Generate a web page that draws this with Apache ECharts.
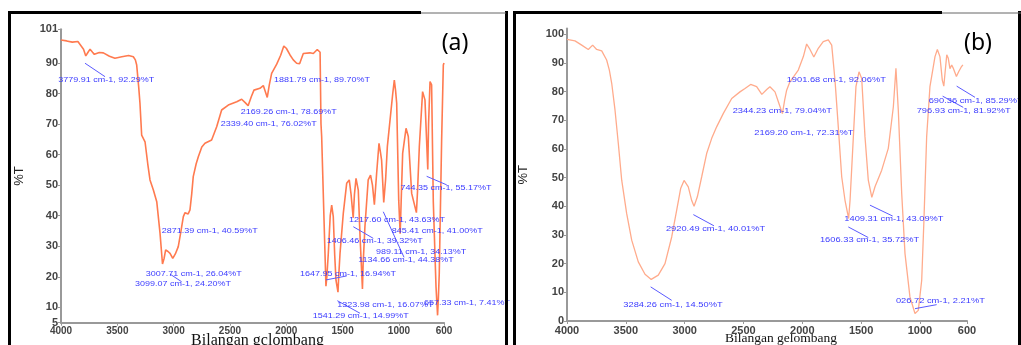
<!DOCTYPE html>
<html><head><meta charset="utf-8">
<script src="https://cdn.jsdelivr.net/npm/echarts@6/dist/echarts.min.js"></script>
<style>html,body{margin:0;padding:0;background:#fff}#c{width:1021px;height:345px}</style>
</head><body><div id="c"></div>
<script>
// ---- tick labels ----
const xTicks = [4000, 3500, 3000, 2500, 2000, 1500, 1000, 600];
const yTicksA = [5, 10, 20, 30, 40, 50, 60, 70, 80, 90, 101];
const yTicksB = [0, 10, 20, 30, 40, 50, 60, 70, 80, 90, 100, 102];

// ---- spectrum (a): wavenumber (cm-1) and %T ----
const wnA = [4000,3950,3900,3850,3800,3780,3760,3742,3720,3704,3660,3624,3570,3521,3460,3400,3358,3340,3328,3310,3299,3284,3254,3230,3210,3180,3150,3121,3099,3085,3071,3050,3032,3008,2985,2959,2935,2914,2899,2871,2855,2840,2826,2800,2781,2750,2722,2663,2640,2618,2574,2515,2440,2396,2365,2339,2310,2287,2234,2204,2185,2169,2150,2130,2085,2050,2022,2000,1967,1938,1908,1882,1849,1834,1790,1760,1725,1716,1700,1692,1686,1665,1648,1640,1627,1610,1597,1583,1570,1559,1541,1535,1523,1494,1464,1441,1425,1406,1395,1381,1361,1345,1324,1318,1302,1273,1252,1235,1218,1198,1177,1165,1154,1135,1118,1103,1073,1055,1041,1030,1020,1002,989,980,967,937,917,887,845,835,819,790,769,744,737,724,710,695,671,657,650,642,621,606,600];
const tA  = [97.5,97.2,96.8,97.0,94.5,92.29,93.5,94.5,93.5,92.8,93.4,93.3,92.2,91.5,92.0,92.4,92.0,91.0,89.3,82.0,76.8,66.4,64.2,57.0,51.7,48.4,44.6,34.3,24.20,26.0,28.8,28.3,27.7,26.04,27.5,29.9,35.0,39.7,41.0,40.59,41.9,47.0,52.8,57.0,59.3,62.5,63.7,64.8,67.0,69.1,74.6,76.2,77.3,78.1,77.0,76.02,79.0,81.1,81.7,82.6,80.5,78.69,83.0,86.6,89.6,92.5,95.5,94.8,92.6,91.0,89.9,89.70,93.1,93.7,93.3,93.1,94.4,94.2,93.5,70.0,65.9,38.6,16.94,20.0,27.7,40.0,43.5,39.7,27.0,18.9,14.99,20.0,27.7,40.8,50.6,51.7,47.0,39.32,47.0,52.2,48.4,33.0,16.07,24.0,36.4,51.7,53.3,50.0,43.63,53.9,63.7,61.0,58.2,44.38,52.0,62.6,73.5,80.0,84.4,81.0,76.8,45.1,34.13,45.0,60.4,68.6,65.9,47.3,41.00,48.0,62.6,80.6,77.9,55.17,70.0,83.9,82.8,44.6,16.8,7.41,13.0,21.2,64.8,89.3,90.0];

// ---- spectrum (b): wavenumber (cm-1) and %T ----
const wnB = [4000,3989,3932,3875,3819,3782,3748,3705,3663,3640,3620,3592,3564,3535,3493,3450,3394,3337,3284,3224,3167,3110,3068,3034,3005,2991,2969,2940,2920,2892,2855,2813,2770,2728,2671,2600,2530,2487,2439,2388,2344,2300,2275,2232,2200,2169,2150,2133,2105,2090,2034,1991,1963,1940,1902,1864,1822,1779,1750,1722,1694,1665,1637,1606,1594,1566,1544,1518,1495,1467,1439,1409,1382,1325,1269,1226,1204,1184,1155,1127,1085,1042,1027,1014,985,966,943,915,872,852,830,810,797,787,772,759,745,730,715,690,670,650,635];
const tB  = [98.2,98.0,97.7,96.2,94.7,96.2,94.7,94.2,91.0,87.5,82.9,73.6,62.0,49.1,37.5,28.2,20.6,16.3,14.50,16.0,20.0,29.3,38.6,46.2,49.0,49.1,46.8,42.0,40.01,43.3,50.3,58.4,63.7,67.7,72.4,77.6,79.9,81.1,82.5,81.7,79.04,80.8,81.7,79.9,76.0,72.31,77.0,80.5,83.4,83.0,87.5,92.2,96.6,95.1,92.06,95.1,97.4,98.0,96.2,84.0,67.7,50.3,42.1,35.72,42.1,64.2,81.7,86.9,84.6,64.2,49.1,43.09,46.8,52.6,60.2,74.7,88.1,73.6,44.5,23.5,8.4,2.6,2.21,3.7,14.2,35.2,64.2,81.7,92.2,94.7,92.2,84.0,81.92,86.4,92.8,91.6,88.0,89.3,88.0,85.29,87.0,88.5,89.3];

// ---- peak annotations: [text, label wn, label %T] ----
const labelsA = [
  ['3779.91 cm-1, 92.29%T', 4024, 84.4],
  ['2871.39 cm-1, 40.59%T', 3106, 35.1],
  ['3007.71 cm-1, 26.04%T', 3248, 20.9],
  ['3099.07 cm-1, 24.20%T', 3343, 17.6],
  ['2339.40 cm-1, 76.02%T', 2582, 70.0],
  ['2169.26 cm-1, 78.69%T', 2405, 74.0],
  ['1881.79 cm-1, 89.70%T', 2109, 84.4],
  ['744.35 cm-1, 55.17%T', 987, 49.2],
  ['1217.60 cm-1, 43.63%T', 1443, 38.6],
  ['845.41 cm-1, 41.00%T', 1064, 35.0],
  ['1406.46 cm-1, 39.32%T', 1641, 31.7],
  ['989.11 cm-1, 34.13%T', 1204, 28.2],
  ['1134.66 cm-1, 44.38%T', 1361, 25.5],
  ['1647.95 cm-1, 16.94%T', 1878, 20.9],
  ['1323.98 cm-1, 16.07%T', 1547, 10.8],
  ['657.33 cm-1, 7.41%T', 778, 11.5],
  ['1541.29 cm-1, 14.99%T', 1766, 7.2]
];
// leader lines: [wn1, T1, wn2, T2]
const leadersA = [
  [3787, 89.9, 3609, 85.5],
  [3032, 20.9, 2929, 18.4],
  [754, 52.9, 576, 50.1],
  [1405, 36.4, 1228, 32.6],
  [1139, 41.3, 955, 26.4],
  [1648, 19.0, 1464, 20.3],
  [1547, 12.2, 1346, 8.1]
];
const labelsB = [
  ['2920.49 cm-1, 40.01%T', 3159, 32.0],
  ['3284.26 cm-1, 14.50%T', 3521, 5.7],
  ['2344.23 cm-1, 79.04%T', 2592, 73.2],
  ['2169.20 cm-1, 72.31%T', 2408, 65.4],
  ['1901.68 cm-1, 92.06%T', 2133, 84.0],
  ['690.36 cm-1, 85.29%T', 926, 76.7],
  ['796.93 cm-1, 81.92%T', 1028, 73.2],
  ['1409.31 cm-1, 43.09%T', 1643, 35.5],
  ['1606.33 cm-1, 35.72%T', 1850, 28.2],
  ['026.72 cm-1, 2.21%T', 1204, 6.9]
];
const leadersB = [
  [2926, 37.1, 2751, 33.2],
  [3289, 11.9, 3110, 7.2],
  [688, 81.9, 532, 78.0],
  [807, 78.4, 632, 74.5],
  [1425, 40.4, 1232, 36.6],
  [1609, 32.8, 1439, 29.1],
  [1042, 4.3, 858, 5.7]
];

const pairs = (xs, ys) => xs.map((x, i) => [x, ys[i]]);
const plain = v => String(v);

function xAxisCfg(gi, fs, nameSize, shift, name, gap) {
  return {
    type: 'value', gridIndex: gi, inverse: true, min: 600, max: 4000,
    splitLine: {show: false},
    axisLine: {onZero: false, lineStyle: {color: '#999', width: 2}},
    axisTick: {customValues: xTicks, length: 3, lineStyle: {color: '#999'}},
    axisLabel: {customValues: xTicks, formatter: plain, fontWeight: 'bold', color: '#444', fontSize: fs, margin: 4, fontFamily: 'Arial, Liberation Sans'},
    name: name, nameLocation: 'middle', nameGap: gap, nameMoveOverlap: false,
    nameTextStyle: {fontFamily: 'Liberation Serif, Times New Roman', fontSize: nameSize, color: '#111', padding: [0, 0, 0, shift]}
  };
}
function yAxisCfg(gi, mn, mx, ticks, gap) {
  return {
    type: 'value', gridIndex: gi, min: mn, max: mx,
    splitLine: {show: false},
    axisLine: {onZero: false, lineStyle: {color: '#999', width: 2}},
    axisTick: {customValues: ticks, length: 3, lineStyle: {color: '#999'}},
    axisLabel: {customValues: ticks, formatter: plain, fontWeight: 'bold', color: '#444', fontSize: 11, margin: 3, fontFamily: 'Arial, Liberation Sans'},
    name: '%T', nameLocation: 'middle', nameGap: gap, nameMoveOverlap: false,
    nameTextStyle: {fontFamily: 'Arial, Liberation Sans', fontSize: 13, color: '#222'}
  };
}

const chart = echarts.init(document.getElementById('c'), null, {renderer: 'canvas'});
chart.setOption({
  animation: false,
  backgroundColor: '#fff',
  grid: [
    {left: 61, top: 29.3, width: 383, height: 293.4, outerBoundsMode: 'none', containLabel: false},
    {left: 567, top: 28.5, width: 400, height: 292.5, outerBoundsMode: 'none', containLabel: false}
  ],
  xAxis: [xAxisCfg(0, 10, 16, 10, 'Bilangan gclombang', 10), xAxisCfg(1, 11, 13.5, 28, 'Bilangan gelombang', 10)],
  yAxis: [yAxisCfg(0, 5, 101, yTicksA, 35), yAxisCfg(1, 0, 102, yTicksB, 37)],
  series: [
    {type: 'line', xAxisIndex: 0, yAxisIndex: 0, data: pairs(wnA, tA), showSymbol: false, clip: true,
     lineStyle: {color: '#ff7a4f', width: 1.6}},
    {type: 'line', xAxisIndex: 1, yAxisIndex: 1, data: pairs(wnB, tB), showSymbol: false, clip: true,
     lineStyle: {color: '#ffab8c', width: 1.3}}
  ]
});

// annotations positioned through the chart's own scales
const g = [];
function addAnn(gi, labels, leaders, fs) {
  leaders.forEach(l => {
    const p1 = chart.convertToPixel({gridIndex: gi}, [l[0], l[1]]);
    const p2 = chart.convertToPixel({gridIndex: gi}, [l[2], l[3]]);
    g.push({type: 'line', shape: {x1: p1[0], y1: p1[1], x2: p2[0], y2: p2[1]},
            style: {stroke: '#5a5aff', lineWidth: 1}, z: 10});
  });
  labels.forEach(a => {
    const p = chart.convertToPixel({gridIndex: gi}, [a[1], a[2]]);
    g.push({type: 'text', x: p[0], y: p[1], scaleY: 0.78, z: 11,
            style: {text: a[0], fill: '#3b3bff', font: fs + 'px Arial, Liberation Sans',
                    textAlign: 'left', textVerticalAlign: 'middle'}});
  });
}
addAnn(0, labelsA, leadersA, 9);
addAnn(1, labelsB, leadersB, 9.3);

// panel frames and panel letters
g.push({type: 'rect', shape: {x: 9.5, y: 12.5, width: 497, height: 345}, style: {fill: 'none', stroke: '#000', lineWidth: 3}, z: 20});
g.push({type: 'rect', shape: {x: 514.5, y: 12.5, width: 505, height: 345}, style: {fill: 'none', stroke: '#000', lineWidth: 3}, z: 20});
g.push({type: 'rect', shape: {x: 421, y: 10, width: 84, height: 5}, style: {fill: '#fff'}, z: 21});
g.push({type: 'line', shape: {x1: 421, y1: 13, x2: 506, y2: 13}, style: {stroke: '#666', lineWidth: 1}, z: 21});
g.push({type: 'rect', shape: {x: 942, y: 10, width: 76, height: 5}, style: {fill: '#fff'}, z: 21});
g.push({type: 'line', shape: {x1: 942, y1: 13, x2: 1021, y2: 13}, style: {stroke: '#666', lineWidth: 1}, z: 21});
g.push({type: 'text', x: 455, y: 43, z: 22, style: {text: '(a)', fill: '#000', font: '23px Noto Sans, Arial', textAlign: 'center', textVerticalAlign: 'middle'}});
g.push({type: 'text', x: 978, y: 43, z: 22, style: {text: '(b)', fill: '#000', font: '23px Noto Sans, Arial', textAlign: 'center', textVerticalAlign: 'middle'}});

chart.setOption({graphic: g});
</script>
</body></html>
